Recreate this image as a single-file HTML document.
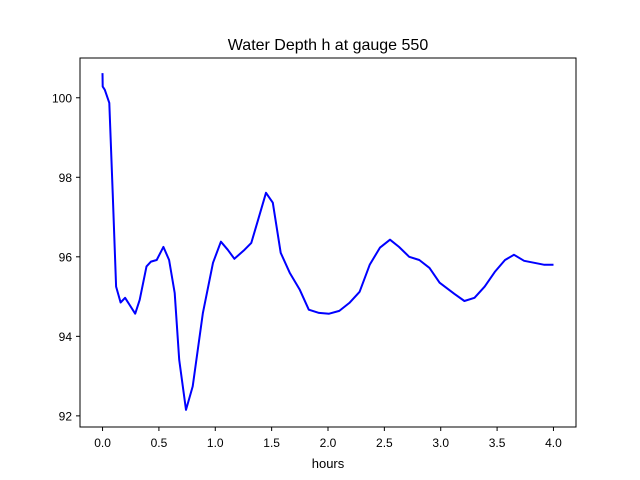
<!DOCTYPE html>
<html><head><meta charset="utf-8"><style>
body{margin:0;background:#fff}
svg{display:block;font-family:"Liberation Sans","DejaVu Sans",sans-serif}
</style></head><body>
<svg id="chart" width="640" height="480">
<rect width="640" height="480" fill="#fff"/>
<text x="328" y="50" font-size="16" text-anchor="middle">Water Depth h at gauge 550</text>
<g id="ticks"></g>
<polyline id="series" fill="none" stroke="#0000ff" stroke-width="2" stroke-linejoin="round"/>
<rect x="80" y="58" width="496" height="369" fill="none" stroke="#000" stroke-width="1"/>
<text x="328" y="468" font-size="13" text-anchor="middle">hours</text>
</svg>
<script>
const hours=[0,0.001,0.02,0.06,0.09,0.12,0.16,0.20,0.24,0.29,0.33,0.39,0.43,0.48,0.54,0.59,0.64,0.68,0.74,0.80,0.89,0.98,1.05,1.11,1.17,1.26,1.32,1.38,1.45,1.51,1.58,1.66,1.75,1.83,1.92,2.01,2.10,2.19,2.28,2.37,2.46,2.55,2.63,2.72,2.81,2.90,2.99,3.12,3.21,3.30,3.39,3.48,3.57,3.65,3.74,3.83,3.92,4.0];
const depth=[100.62,100.28,100.2,99.87,97.61,95.25,94.85,94.97,94.79,94.57,94.92,95.76,95.88,95.92,96.25,95.92,95.09,93.41,92.15,92.74,94.59,95.85,96.38,96.18,95.95,96.18,96.35,96.93,97.61,97.36,96.10,95.60,95.17,94.67,94.59,94.57,94.64,94.84,95.12,95.80,96.23,96.43,96.25,96.0,95.92,95.72,95.35,95.07,94.89,94.97,95.25,95.62,95.92,96.05,95.90,95.85,95.80,95.80];
const xTicks=["0.0","0.5","1.0","1.5","2.0","2.5","3.0","3.5","4.0"];
const yTicks=["92","94","96","98","100"];
const xs=v=>80+(v+0.2)/4.4*496;
const ys=v=>427-(v-91.72)/(101.0-91.72)*369;
const NS="http://www.w3.org/2000/svg";
const g=document.getElementById('ticks');
function mk(tag,attrs){const e=document.createElementNS(NS,tag);for(const k in attrs)e.setAttribute(k,attrs[k]);return e;}
xTicks.forEach(t=>{const x=xs(parseFloat(t));
const l=mk('line',{x1:x,x2:x,y1:427,y2:431,stroke:'#000'});


g.appendChild(l);
const tx=mk('text',{x:x,y:447,'font-size':12,'text-anchor':'middle'});tx.textContent=t;


g.appendChild(tx);});
yTicks.forEach(t=>{const y=ys(parseFloat(t));
const l=mk('line',{x1:76,x2:80,y1:y,y2:y,stroke:'#000'});


g.appendChild(l);
const tx=mk('text',{x:72,y:y+4.5,'font-size':12,'text-anchor':'end'});tx.textContent=t;


g.appendChild(tx);});
document.getElementById('series').setAttribute('points',hours.map((h,i)=>xs(h).toFixed(1)+','+ys(depth[i]).toFixed(1)).join(' '));
</script>
</body></html>
